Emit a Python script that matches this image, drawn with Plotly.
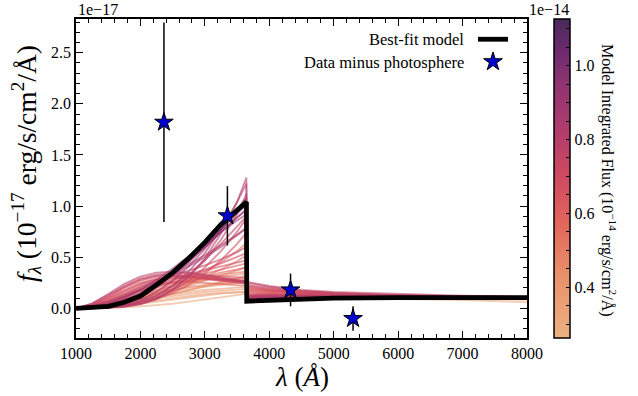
import plotly.graph_objects as go
from plotly.colors import sample_colorscale

# ---------------- data (flux in units of 1e-17 erg/s/cm2/A) ----------------
wave = [1000, 1250, 1500, 1750, 2000, 2250, 2500, 2750, 3000, 3250, 3500,
        3645, 3650, 4000, 4500, 5000, 6000, 7000, 8000]

best_fit = [0, 0.005, 0.02, 0.06, 0.12, 0.23, 0.35, 0.49, 0.645, 0.82, 0.96,
            1.04, 0.07, 0.08, 0.09, 0.10, 0.105, 0.11, 0.105]

# model integrated flux (units of 1e-14) for each sampled model
model_flux = [0.78, 0.72, 0.68, 0.62, 0.55,
              0.45, 0.38, 0.32, 0.29,
              1.00, 0.92, 0.85, 0.82, 0.80, 0.76,
              0.74, 0.70, 0.66, 0.60, 0.58, 0.84, 0.52, 0.88, 0.48,
              0.75, 0.70, 0.66, 0.64, 0.60, 0.57,
              0.42, 0.35, 0.31, 0.40,
              0.95, 0.78, 0.72, 0.68,
              0.62, 0.56, 0.50, 0.44, 0.80, 0.90]

model_spectra = [
    [0, 0.05, 0.14, 0.24, 0.31, 0.35, 0.36, 0.35, 0.33, 0.30, 0.27, 0.26, 0.25, 0.21, 0.17, 0.15, 0.13, 0.12, 0.11],
    [0, 0.04, 0.12, 0.21, 0.28, 0.32, 0.33, 0.32, 0.30, 0.28, 0.26, 0.25, 0.22, 0.19, 0.16, 0.14, 0.125, 0.115, 0.11],
    [0, 0.03, 0.10, 0.18, 0.25, 0.29, 0.31, 0.31, 0.30, 0.28, 0.27, 0.26, 0.20, 0.18, 0.155, 0.14, 0.125, 0.115, 0.105],
    [0, 0.02, 0.07, 0.14, 0.21, 0.26, 0.29, 0.30, 0.30, 0.29, 0.28, 0.27, 0.18, 0.17, 0.15, 0.135, 0.12, 0.11, 0.10],
    [0, 0.015, 0.05, 0.11, 0.17, 0.22, 0.25, 0.27, 0.28, 0.28, 0.27, 0.27, 0.15, 0.15, 0.14, 0.13, 0.12, 0.11, 0.10],
    [0, 0.01, 0.03, 0.07, 0.11, 0.15, 0.18, 0.21, 0.23, 0.25, 0.26, 0.27, 0.12, 0.13, 0.125, 0.12, 0.115, 0.11, 0.10],
    [0, 0.005, 0.02, 0.05, 0.08, 0.11, 0.14, 0.16, 0.18, 0.19, 0.20, 0.21, 0.10, 0.11, 0.11, 0.11, 0.11, 0.10, 0.095],
    [0, 0.003, 0.012, 0.03, 0.055, 0.08, 0.10, 0.12, 0.14, 0.15, 0.16, 0.165, 0.08, 0.09, 0.095, 0.10, 0.10, 0.095, 0.09],
    [0, 0.001, 0.004, 0.01, 0.02, 0.03, 0.045, 0.065, 0.085, 0.105, 0.13, 0.145, 0.07, 0.08, 0.09, 0.095, 0.09, 0.08, 0.06],
    [0, 0.004, 0.018, 0.05, 0.11, 0.21, 0.33, 0.47, 0.62, 0.78, 0.93, 1.01, 0.07, 0.08, 0.09, 0.10, 0.105, 0.11, 0.105],
    [0, 0.006, 0.025, 0.065, 0.13, 0.22, 0.33, 0.46, 0.60, 0.75, 0.89, 0.96, 0.08, 0.09, 0.10, 0.105, 0.11, 0.11, 0.105],
    [0, 0.003, 0.012, 0.035, 0.08, 0.16, 0.27, 0.41, 0.58, 0.77, 0.97, 1.08, 0.09, 0.10, 0.11, 0.115, 0.115, 0.115, 0.11],
    [0, 0.002, 0.008, 0.025, 0.06, 0.12, 0.22, 0.36, 0.54, 0.77, 1.04, 1.22, 0.10, 0.11, 0.115, 0.12, 0.12, 0.115, 0.11],
    [0, 0.001, 0.005, 0.015, 0.04, 0.09, 0.18, 0.31, 0.49, 0.73, 1.04, 1.28, 0.11, 0.12, 0.12, 0.12, 0.12, 0.115, 0.11],
    [0, 0.003, 0.01, 0.03, 0.07, 0.13, 0.22, 0.33, 0.47, 0.63, 0.80, 0.90, 0.12, 0.13, 0.13, 0.125, 0.12, 0.115, 0.11],
    [0, 0.02, 0.07, 0.14, 0.21, 0.27, 0.32, 0.37, 0.42, 0.48, 0.55, 0.60, 0.14, 0.14, 0.13, 0.125, 0.12, 0.115, 0.11],
    [0, 0.015, 0.05, 0.11, 0.17, 0.23, 0.28, 0.33, 0.38, 0.44, 0.50, 0.54, 0.13, 0.135, 0.13, 0.125, 0.12, 0.11, 0.105],
    [0, 0.01, 0.04, 0.09, 0.15, 0.21, 0.27, 0.32, 0.37, 0.41, 0.45, 0.47, 0.12, 0.13, 0.125, 0.12, 0.115, 0.11, 0.10],
    [0, 0.008, 0.03, 0.07, 0.12, 0.17, 0.22, 0.27, 0.31, 0.35, 0.38, 0.40, 0.11, 0.12, 0.12, 0.115, 0.11, 0.105, 0.10],
    [0, 0.01, 0.035, 0.08, 0.13, 0.18, 0.23, 0.29, 0.36, 0.45, 0.56, 0.64, 0.10, 0.11, 0.115, 0.115, 0.11, 0.105, 0.10],
    [0, 0.02, 0.06, 0.12, 0.19, 0.26, 0.33, 0.41, 0.50, 0.60, 0.71, 0.78, 0.10, 0.11, 0.115, 0.115, 0.11, 0.105, 0.10],
    [0, 0.008, 0.03, 0.065, 0.11, 0.16, 0.21, 0.26, 0.30, 0.33, 0.35, 0.36, 0.09, 0.10, 0.105, 0.105, 0.105, 0.10, 0.095],
    [0, 0.01, 0.04, 0.10, 0.18, 0.28, 0.39, 0.51, 0.63, 0.75, 0.86, 0.92, 0.09, 0.10, 0.105, 0.11, 0.11, 0.11, 0.105],
    [0, 0.005, 0.02, 0.05, 0.09, 0.14, 0.19, 0.24, 0.28, 0.31, 0.33, 0.34, 0.08, 0.09, 0.10, 0.10, 0.10, 0.095, 0.09],
    [0, 0.045, 0.13, 0.22, 0.29, 0.33, 0.345, 0.34, 0.32, 0.29, 0.27, 0.26, 0.26, 0.22, 0.18, 0.16, 0.14, 0.125, 0.115],
    [0, 0.035, 0.11, 0.20, 0.27, 0.31, 0.32, 0.31, 0.29, 0.27, 0.25, 0.24, 0.23, 0.20, 0.17, 0.15, 0.13, 0.12, 0.11],
    [0, 0.03, 0.09, 0.17, 0.24, 0.28, 0.30, 0.30, 0.29, 0.27, 0.26, 0.25, 0.19, 0.17, 0.15, 0.14, 0.125, 0.115, 0.105],
    [0, 0.025, 0.08, 0.16, 0.23, 0.28, 0.31, 0.32, 0.32, 0.31, 0.30, 0.30, 0.17, 0.16, 0.15, 0.14, 0.125, 0.115, 0.105],
    [0, 0.02, 0.06, 0.12, 0.18, 0.23, 0.26, 0.28, 0.29, 0.29, 0.29, 0.29, 0.16, 0.15, 0.14, 0.13, 0.12, 0.11, 0.10],
    [0, 0.02, 0.065, 0.13, 0.19, 0.23, 0.25, 0.26, 0.25, 0.24, 0.23, 0.22, 0.21, 0.18, 0.155, 0.14, 0.12, 0.11, 0.10],
    [0, 0.008, 0.025, 0.06, 0.10, 0.14, 0.17, 0.20, 0.22, 0.24, 0.25, 0.25, 0.11, 0.12, 0.12, 0.115, 0.11, 0.105, 0.10],
    [0, 0.004, 0.015, 0.04, 0.07, 0.10, 0.12, 0.14, 0.16, 0.17, 0.18, 0.19, 0.09, 0.10, 0.10, 0.10, 0.10, 0.095, 0.09],
    [0, 0.002, 0.01, 0.025, 0.045, 0.07, 0.09, 0.11, 0.13, 0.145, 0.155, 0.16, 0.08, 0.085, 0.09, 0.095, 0.095, 0.09, 0.085],
    [0, 0.006, 0.02, 0.045, 0.08, 0.115, 0.15, 0.18, 0.21, 0.23, 0.25, 0.26, 0.10, 0.11, 0.11, 0.11, 0.105, 0.10, 0.095],
    [0, 0.005, 0.02, 0.055, 0.115, 0.21, 0.32, 0.45, 0.60, 0.77, 0.94, 1.04, 0.08, 0.09, 0.10, 0.105, 0.11, 0.11, 0.105],
    [0, 0.002, 0.007, 0.02, 0.05, 0.10, 0.19, 0.31, 0.47, 0.67, 0.92, 1.12, 0.10, 0.11, 0.115, 0.115, 0.115, 0.11, 0.105],
    [0, 0.002, 0.008, 0.022, 0.05, 0.10, 0.17, 0.27, 0.40, 0.56, 0.75, 0.88, 0.11, 0.12, 0.12, 0.12, 0.115, 0.11, 0.105],
    [0, 0.002, 0.007, 0.02, 0.045, 0.09, 0.15, 0.23, 0.34, 0.47, 0.63, 0.74, 0.10, 0.11, 0.115, 0.115, 0.11, 0.105, 0.10],
    [0, 0.012, 0.04, 0.09, 0.14, 0.20, 0.25, 0.30, 0.34, 0.38, 0.42, 0.44, 0.11, 0.12, 0.12, 0.115, 0.11, 0.105, 0.10],
    [0, 0.006, 0.022, 0.05, 0.09, 0.14, 0.19, 0.25, 0.31, 0.38, 0.46, 0.52, 0.09, 0.10, 0.105, 0.11, 0.105, 0.10, 0.095],
    [0, 0.005, 0.018, 0.045, 0.08, 0.12, 0.17, 0.22, 0.27, 0.32, 0.37, 0.40, 0.08, 0.09, 0.10, 0.10, 0.10, 0.095, 0.09],
    [0, 0.004, 0.015, 0.035, 0.065, 0.10, 0.14, 0.18, 0.22, 0.26, 0.30, 0.32, 0.08, 0.09, 0.095, 0.10, 0.10, 0.095, 0.09],
    [0, 0.015, 0.05, 0.11, 0.18, 0.26, 0.34, 0.43, 0.52, 0.62, 0.72, 0.79, 0.12, 0.125, 0.125, 0.12, 0.115, 0.11, 0.105],
    [0, 0.008, 0.03, 0.08, 0.15, 0.24, 0.35, 0.47, 0.60, 0.74, 0.88, 0.97, 0.09, 0.10, 0.10, 0.105, 0.11, 0.11, 0.105],
]

data_wave = [2365, 3350, 4330, 5300]
data_flux = [1.82, 0.905, 0.18, -0.10]
data_err = [0.975, 0.29, 0.16, 0.12]

cmin, cmax = 0.263, 1.126
flare = [[0.0, "#edb081"], [0.2, "#e8906c"], [0.35, "#e3685c"], [0.5, "#d14a61"],
         [0.65, "#b13c6c"], [0.8, "#8f3371"], [0.9, "#6c2b6d"], [1.0, "#4a2a5c"]]

FONT = "Liberation Serif"
L, T, W, H = 76, 19, 451, 319


def px(x):
    return (x - L) / W


def py(y):
    return 1 - (y - T) / H


fig = go.Figure()

# model spectra, drawn low flux first
order = sorted(range(len(model_flux)), key=lambda i: model_flux[i])
for i in order:
    c = sample_colorscale(flare, [(model_flux[i] - cmin) / (cmax - cmin)])[0]
    fig.add_trace(go.Scatter(x=wave, y=model_spectra[i], mode="lines",
                             line=dict(color=c, width=1.8), opacity=0.6,
                             showlegend=False, hoverinfo="skip"))

# best-fit model
fig.add_trace(go.Scatter(x=wave, y=best_fit, mode="lines", name=" ",
                         line=dict(color="black", width=4.8)))

# data points
fig.add_trace(go.Scatter(x=data_wave, y=data_flux, mode="markers", name=" ",
                         error_y=dict(type="data", array=data_err, color="black",
                                      thickness=1.5, width=0),
                         marker=dict(symbol="star", size=14, color="#0000cd",
                                     line=dict(color="black", width=1))))

# colorbar carrier
fig.add_trace(go.Scatter(x=[None] * len(model_flux), y=[None] * len(model_flux),
                         mode="markers", showlegend=False,
                         marker=dict(color=model_flux, colorscale=flare, cmin=cmin, cmax=cmax,
                                     showscale=True,
                                     colorbar=dict(x=px(554), xanchor="left",
                                                   thickness=16, thicknessmode="pixels",
                                                   len=1, lenmode="fraction", y=0.5, yanchor="middle",
                                                   ypad=0, xpad=0,
                                                   outlinewidth=1.5, outlinecolor="black",
                                                   ticks="inside", ticklen=4, tickcolor="black",
                                                   tickvals=[0.3 + 0.05 * k for k in range(17)],
                                                   ticktext=["", "", "0.4", "", "", "", "0.6", "", "", "",
                                                             "0.8", "", "", "", "1.0", "", ""],
                                                   tickfont=dict(family=FONT, size=16, color="black")))))

axis_common = dict(showline=True, linecolor="black", linewidth=1.5, mirror="allticks",
                   ticks="inside", ticklen=7, tickwidth=1.2, tickcolor="black",
                   showgrid=False, zeroline=False,
                   tickfont=dict(family=FONT, size=16, color="black"))

fig.update_xaxes(range=[1000, 8000], dtick=1000, tick0=1000,
                 minor=dict(ticks="inside", ticklen=4, dtick=200, tickcolor="black", tickwidth=1),
                 **axis_common)
fig.update_yaxes(range=[-0.29, 2.83], dtick=0.5, tick0=0, tickformat=".1f",
                 minor=dict(ticks="inside", ticklen=4, dtick=0.1, tickcolor="black", tickwidth=1),
                 **axis_common)

ann = [
    dict(text="Best-fit model", x=px(466), y=py(39), xanchor="right", yanchor="middle",
         font=dict(family=FONT, size=16.5, color="black")),
    dict(text="Data minus photosphere", x=px(466), y=py(62), xanchor="right", yanchor="middle",
         font=dict(family=FONT, size=16.5, color="black")),
    dict(text="1e\u221217", x=0, xanchor="left", y=py(10), yanchor="middle",
         font=dict(family=FONT, size=16)),
    dict(text="1e\u221214", x=px(571), xanchor="right", y=py(10), yanchor="middle",
         font=dict(family=FONT, size=16)),
    dict(text="<i>\u03bb</i> (<i>\u00c5</i>)", x=px(302), y=py(377), xanchor="center",
         yanchor="middle", font=dict(family=FONT, size=27)),
    dict(text="<i>f</i><sub><i>\u03bb</i></sub> (10<sup>\u221217</sup> erg/s/cm<sup>2</sup>/\u00c5)",
         x=px(26), y=py(164), xanchor="center", yanchor="middle", textangle=-90,
         font=dict(family=FONT, size=27.5)),
    dict(text="Model Integrated Flux (10<sup>\u221214</sup> erg/s/cm<sup>2</sup>/\u00c5)",
         x=px(609), y=py(180), xanchor="center", yanchor="middle", textangle=90,
         font=dict(family=FONT, size=16)),
]
for a in ann:
    a.update(xref="paper", yref="paper", showarrow=False)

fig.update_layout(
    width=638, height=396,
    margin=dict(l=L, r=638 - L - W, t=T, b=396 - T - H),
    paper_bgcolor="white", plot_bgcolor="white",
    font=dict(family=FONT, color="black"),
    legend=dict(x=px(473), y=py(23), xanchor="left", yanchor="top",
                bgcolor="rgba(0,0,0,0)", font=dict(family=FONT, size=15)),
    annotations=ann,
)

fig.write_html("out.html")
